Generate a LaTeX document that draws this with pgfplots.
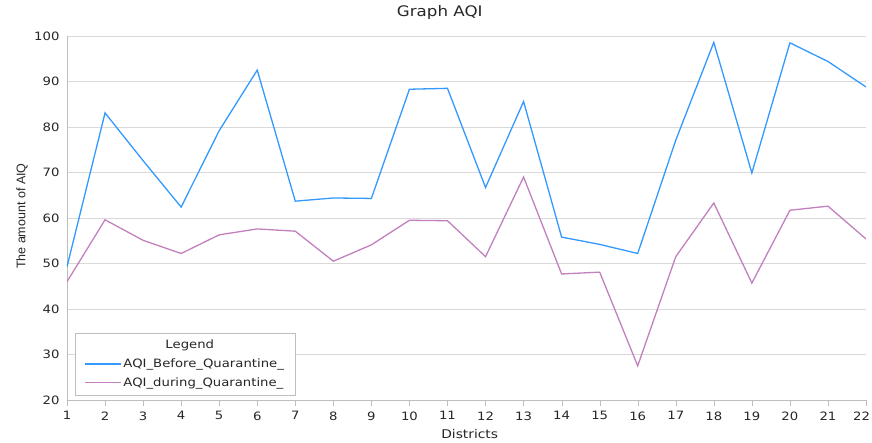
\documentclass[border=0pt]{standalone}
\usepackage{pgfplots}
\pgfplotsset{compat=1.18}
\usepackage{fontspec}
\setmainfont[FakeStretch=1.15]{DejaVu Sans}
\newfontfamily\labfont{Liberation Sans}
\definecolor{cblue}{RGB}{51,153,255}
\definecolor{cpink}{RGB}{194,128,190}
\definecolor{gridc}{RGB}{217,217,217}
\definecolor{axc}{RGB}{190,190,190}
\begin{document}
\begin{tikzpicture}[x=1pt,y=1pt]
\begin{axis}[
  scale only axis, width=799pt, height=364pt,
  at={(0pt,0pt)}, anchor=south west,
  xmin=1, xmax=22, ymin=20, ymax=100,
  xtick={1,...,22}, ytick={20,30,...,100},
  xticklabels={1,2,3,4,5,6,7,8,9,10,11,12,13,14,15,16,17,18,19,20,21,\hspace*{-9pt}22},
  axis x line*=bottom, axis y line*=left,
  axis line style={draw=axc, -},
  ymajorgrids, major grid style={draw=gridc, line width=0.8pt},
  tick align=outside, major tick length=6pt,
  xtick style={draw=axc}, ytick style={draw=none},
  /pgf/number format/assume math mode=true,
  tick label style={font=\fontsize{11.5}{13}\selectfont, text=black!85},
  xticklabel style={yshift=-2pt},
  yticklabel style={xshift=2pt},
  title={Graph AQI},
  title style={at={(axis description cs:0.4665,1)}, anchor=center, yshift=18pt, font=\fontsize{14.5}{16}\selectfont, text=black!85},
  xlabel={Districts},
  xlabel style={at={(axis description cs:0.504,0)}, anchor=center, yshift=-34pt, font=\fontsize{12}{14}\selectfont, text=black!85},
  ylabel={The amount of AIQ},
  ylabel style={at={(axis description cs:-0.0563,0.505)}, anchor=center, rotate=0, font=\labfont\fontsize{12.5}{14}\selectfont, text=black!85},
  legend style={at={(axis description cs:0.01,0.0137)}, anchor=south west, draw=axc, fill=white, font=\fontsize{11.5}{13}\selectfont, text=black!85, inner xsep=9pt, inner ysep=5pt, row sep=4.5pt},
  legend cell align=left,
  legend image code/.code={\draw[#1] (0pt,0pt) -- (36pt,0pt);},
]
\addlegendimage{empty legend}
\addlegendentry{\hspace{42pt}Legend}
\addplot[cblue, line width=1.3pt] coordinates {
(1,49.3) (2,83.1) (3,72.6) (4,62.4) (5,79.2) (6,92.5) (7,63.7) (8,64.4) (9,64.3) (10,88.3) (11,88.5)
(12,66.7) (13,85.6) (14,55.8) (15,54.2) (16,52.2) (17,77.1) (18,98.6) (19,69.9) (20,98.5) (21,94.4) (22,88.8)};
\addlegendentry{AQI\_Before\_Quarantine\_}
\addplot[cpink, line width=1.3pt] coordinates {
(1,46.0) (2,59.6) (3,55.1) (4,52.2) (5,56.3) (6,57.6) (7,57.1) (8,50.5) (9,54.1) (10,59.5) (11,59.4)
(12,51.5) (13,69.0) (14,47.7) (15,48.1) (16,27.5) (17,51.5) (18,63.3) (19,45.7) (20,61.7) (21,62.6) (22,55.4)};
\addlegendentry{AQI\_during\_Quarantine\_}
\end{axis}
\pgfresetboundingbox
\path[use as bounding box] (-67pt,-43pt) rectangle (805pt,400pt);
\end{tikzpicture}
\end{document}
